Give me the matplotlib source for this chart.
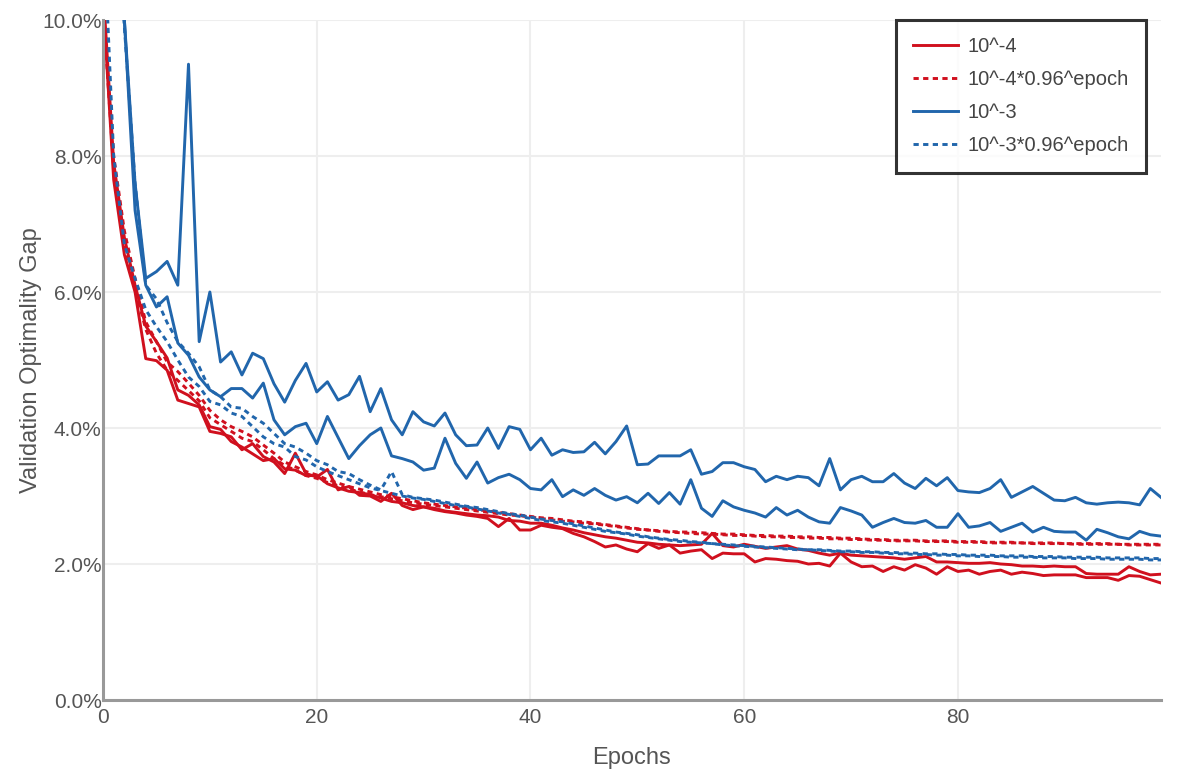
import matplotlib
matplotlib.use('Agg')
import matplotlib.pyplot as plt
from matplotlib.ticker import FuncFormatter
import numpy as np

plt.rcParams['font.family'] = ['Liberation Sans', 'DejaVu Sans']

epochs = np.arange(100)

# lr 10^-4, two runs
lr4_a = [10.3, 7.65, 6.55, 6.0, 5.02, 4.99, 4.85, 4.41, 4.36, 4.31,
         3.95, 3.92, 3.87, 3.68, 3.77, 3.58, 3.50, 3.33, 3.63, 3.33,
         3.28, 3.39, 3.09, 3.14, 3.01, 3.00, 2.92, 3.04, 2.86, 2.80,
         2.84, 2.80, 2.77, 2.75, 2.72, 2.70, 2.67, 2.55, 2.67, 2.50,
         2.50, 2.57, 2.54, 2.52, 2.45, 2.40, 2.33, 2.25, 2.28, 2.22,
         2.18, 2.30, 2.23, 2.28, 2.16, 2.19, 2.21, 2.08, 2.16, 2.15,
         2.15, 2.03, 2.08, 2.07, 2.05, 2.04, 2.00, 2.01, 1.97, 2.16,
         2.03, 1.96, 1.97, 1.89, 1.96, 1.91, 1.99, 1.94, 1.85, 1.96,
         1.89, 1.91, 1.85, 1.89, 1.91, 1.85, 1.88, 1.86, 1.83, 1.84,
         1.84, 1.84, 1.80, 1.80, 1.80, 1.76, 1.83, 1.82, 1.77, 1.72]
lr4_b = [10.5, 7.9, 6.8, 6.1, 5.5, 5.27, 5.03, 4.56, 4.48, 4.34,
         4.02, 3.98, 3.80, 3.72, 3.62, 3.52, 3.55, 3.40, 3.38, 3.30,
         3.30, 3.18, 3.12, 3.07, 3.05, 3.02, 2.97, 2.92, 2.90, 2.86,
         2.84, 2.82, 2.78, 2.76, 2.74, 2.72, 2.71, 2.69, 2.64, 2.63,
         2.60, 2.60, 2.57, 2.53, 2.50, 2.46, 2.43, 2.40, 2.38, 2.35,
         2.32, 2.31, 2.29, 2.28, 2.27, 2.28, 2.29, 2.45, 2.27, 2.25,
         2.29, 2.26, 2.23, 2.25, 2.27, 2.22, 2.20, 2.16, 2.13, 2.16,
         2.13, 2.12, 2.11, 2.10, 2.09, 2.07, 2.09, 2.11, 2.03, 2.03,
         2.02, 2.01, 2.01, 2.02, 2.00, 1.99, 1.97, 1.97, 1.96, 1.97,
         1.96, 1.96, 1.86, 1.85, 1.85, 1.85, 1.96, 1.89, 1.84, 1.85]

# lr 10^-4 * 0.96^epoch, two runs
lr4_decay_a = [10.4, 8.0, 6.9, 6.2, 5.56, 5.27, 4.97, 4.83, 4.66, 4.48,
               4.26, 4.12, 4.02, 3.95, 3.87, 3.75, 3.63, 3.50, 3.43, 3.36,
               3.31, 3.24, 3.19, 3.14, 3.10, 3.06, 3.02, 2.99, 2.96, 2.93,
               2.90, 2.88, 2.86, 2.84, 2.82, 2.80, 2.78, 2.76, 2.74, 2.72,
               2.70, 2.68, 2.67, 2.65, 2.63, 2.62, 2.60, 2.58, 2.56, 2.54,
               2.52, 2.50, 2.49, 2.48, 2.47, 2.47, 2.46, 2.45, 2.44, 2.44,
               2.43, 2.42, 2.42, 2.41, 2.41, 2.40, 2.40, 2.39, 2.39, 2.38,
               2.38, 2.37, 2.36, 2.36, 2.35, 2.35, 2.35, 2.34, 2.34, 2.34,
               2.33, 2.33, 2.33, 2.32, 2.32, 2.32, 2.31, 2.31, 2.31, 2.31,
               2.30, 2.30, 2.30, 2.30, 2.30, 2.29, 2.29, 2.29, 2.29, 2.29]
lr4_decay_b = [10.2, 7.8, 6.7, 6.05, 5.45, 5.1, 4.85, 4.7, 4.55, 4.4,
               4.15, 4.05, 3.95, 3.85, 3.8, 3.68, 3.55, 3.45, 3.38, 3.30,
               3.26, 3.20, 3.15, 3.10, 3.06, 3.02, 2.99, 2.96, 2.93, 2.90,
               2.88, 2.86, 2.84, 2.82, 2.80, 2.78, 2.76, 2.74, 2.72, 2.71,
               2.69, 2.67, 2.65, 2.63, 2.62, 2.60, 2.59, 2.57, 2.55, 2.53,
               2.51, 2.50, 2.48, 2.47, 2.46, 2.45, 2.44, 2.44, 2.43, 2.42,
               2.42, 2.41, 2.40, 2.40, 2.39, 2.39, 2.38, 2.38, 2.37, 2.37,
               2.36, 2.36, 2.35, 2.35, 2.34, 2.34, 2.34, 2.33, 2.33, 2.33,
               2.32, 2.32, 2.32, 2.31, 2.31, 2.31, 2.31, 2.30, 2.30, 2.30,
               2.30, 2.29, 2.29, 2.29, 2.29, 2.29, 2.28, 2.28, 2.28, 2.28]

# lr 10^-3, two runs
lr3_a = [14.0, 12.0, 10.0, 7.6, 6.2, 6.3, 6.45, 6.1, 9.35, 5.27,
         6.0, 4.97, 5.12, 4.78, 5.10, 5.02, 4.65, 4.38, 4.70, 4.95,
         4.53, 4.68, 4.41, 4.49, 4.76, 4.24, 4.58, 4.12, 3.90, 4.24,
         4.09, 4.03, 4.22, 3.90, 3.74, 3.75, 4.00, 3.70, 4.02, 3.98,
         3.68, 3.85, 3.60, 3.68, 3.64, 3.65, 3.79, 3.62, 3.80, 4.03,
         3.46, 3.47, 3.59, 3.59, 3.59, 3.68, 3.32, 3.36, 3.49, 3.49,
         3.43, 3.39, 3.21, 3.29, 3.24, 3.29, 3.27, 3.15, 3.55, 3.09,
         3.24, 3.29, 3.21, 3.21, 3.33, 3.19, 3.11, 3.26, 3.15, 3.27,
         3.08, 3.06, 3.05, 3.11, 3.24, 2.98, 3.06, 3.14, 3.04, 2.94,
         2.93, 2.98, 2.90, 2.88, 2.90, 2.91, 2.90, 2.87, 3.11, 2.98]
lr3_b = [13.0, 11.5, 10.0, 7.2, 6.1, 5.78, 5.93, 5.25, 5.07, 4.75,
         4.56, 4.46, 4.58, 4.58, 4.44, 4.66, 4.12, 3.90, 4.02, 4.07,
         3.77, 4.17, 3.86, 3.55, 3.74, 3.90, 4.00, 3.59, 3.55, 3.50,
         3.38, 3.41, 3.85, 3.48, 3.26, 3.50, 3.19, 3.27, 3.32, 3.24,
         3.11, 3.09, 3.24, 2.99, 3.09, 3.01, 3.11, 3.01, 2.94, 2.99,
         2.90, 3.04, 2.89, 3.05, 2.88, 3.24, 2.82, 2.70, 2.93, 2.84,
         2.79, 2.75, 2.69, 2.83, 2.72, 2.79, 2.69, 2.62, 2.60, 2.83,
         2.78, 2.72, 2.54, 2.61, 2.67, 2.61, 2.60, 2.64, 2.54, 2.54,
         2.74, 2.54, 2.56, 2.61, 2.48, 2.54, 2.60, 2.47, 2.54, 2.48,
         2.47, 2.47, 2.35, 2.51, 2.46, 2.40, 2.37, 2.48, 2.43, 2.41]

# lr 10^-3 * 0.96^epoch, two runs
lr3_decay_a = [11.6, 8.0, 6.7, 6.2, 5.74, 5.49, 5.27, 5.0, 4.75, 4.61,
               4.39, 4.34, 4.22, 4.17, 4.02, 3.87, 3.77, 3.72, 3.58, 3.53,
               3.43, 3.36, 3.30, 3.24, 3.18, 3.12, 3.08, 3.04, 3.00, 2.97,
               2.95, 2.92, 2.89, 2.86, 2.84, 2.81, 2.78, 2.75, 2.73, 2.70,
               2.67, 2.64, 2.62, 2.60, 2.57, 2.54, 2.51, 2.48, 2.46, 2.44,
               2.41, 2.39, 2.37, 2.35, 2.33, 2.32, 2.31, 2.30, 2.28, 2.27,
               2.26, 2.25, 2.24, 2.23, 2.22, 2.21, 2.21, 2.20, 2.19, 2.18,
               2.18, 2.17, 2.17, 2.16, 2.15, 2.15, 2.14, 2.14, 2.13, 2.13,
               2.12, 2.12, 2.11, 2.11, 2.11, 2.10, 2.10, 2.10, 2.09, 2.09,
               2.09, 2.08, 2.08, 2.08, 2.07, 2.07, 2.07, 2.07, 2.06, 2.06]
lr3_decay_b = [14.5, 12.0, 9.9, 7.6, 6.1, 5.9, 5.55, 5.27, 5.1, 4.9,
               4.56, 4.46, 4.31, 4.29, 4.17, 4.07, 3.92, 3.77, 3.72, 3.63,
               3.52, 3.46, 3.36, 3.33, 3.24, 3.16, 3.09, 3.36, 3.02, 2.98,
               2.96, 2.94, 2.91, 2.88, 2.85, 2.83, 2.80, 2.77, 2.74, 2.72,
               2.69, 2.66, 2.64, 2.62, 2.59, 2.56, 2.53, 2.50, 2.47, 2.45,
               2.43, 2.40, 2.38, 2.36, 2.35, 2.33, 2.32, 2.30, 2.29, 2.28,
               2.27, 2.26, 2.25, 2.24, 2.23, 2.22, 2.21, 2.21, 2.20, 2.19,
               2.19, 2.18, 2.18, 2.17, 2.17, 2.16, 2.16, 2.15, 2.15, 2.14,
               2.14, 2.13, 2.13, 2.13, 2.12, 2.12, 2.12, 2.11, 2.11, 2.11,
               2.10, 2.10, 2.10, 2.10, 2.09, 2.09, 2.09, 2.09, 2.08, 2.08]

red = '#d0101e'
blue = '#2166ac'
dot = (0, (1.8, 1.5))
lw = 2.1

fig = plt.figure(figsize=(11.96, 7.69), dpi=100)
ax = fig.add_axes([103 / 1196, 1 - 700 / 769, (1161 - 103) / 1196, (700 - 20) / 769])

ax.plot(epochs, lr4_a, color=red, lw=lw, label='10^-4')
ax.plot(epochs, lr4_b, color=red, lw=lw, label='_nolegend_')
ax.plot(epochs, lr4_decay_a, color=red, lw=lw, ls=dot, label='10^-4*0.96^epoch')
ax.plot(epochs, lr4_decay_b, color=red, lw=lw, ls=dot, label='_nolegend_')
ax.plot(epochs, lr3_a, color=blue, lw=lw, label='10^-3')
ax.plot(epochs, lr3_b, color=blue, lw=lw, label='_nolegend_')
ax.plot(epochs, lr3_decay_a, color=blue, lw=lw, ls=dot, label='10^-3*0.96^epoch')
ax.plot(epochs, lr3_decay_b, color=blue, lw=lw, ls=dot, label='_nolegend_')

ax.set_xlim(0, 99)
ax.set_ylim(0, 10)
ax.set_xticks([0, 20, 40, 60, 80])
ax.set_yticks([0, 2, 4, 6, 8, 10])
ax.yaxis.set_major_formatter(FuncFormatter(lambda v, p: f'{v:.1f}%'))

ax.grid(True, color='#eeeeee', lw=1.5)
ax.set_axisbelow(True)
for s in ['top', 'right']:
    ax.spines[s].set_visible(False)
for s in ['left', 'bottom']:
    ax.spines[s].set_color('#999999')
    ax.spines[s].set_linewidth(2.2)
    ax.spines[s].set_zorder(5)

ax.tick_params(length=0, labelsize=15, colors='#555555')
ax.tick_params(axis='x', pad=6)
ax.tick_params(axis='y', pad=1)

ax.set_xlabel('Epochs', fontsize=17, color='#555555', labelpad=14)
ax.set_ylabel('Validation Optimality Gap', fontsize=17, color='#555555', labelpad=0)

leg = ax.legend(loc='upper right', bbox_to_anchor=(1146 / 1196, 1 - 20 / 769),
                bbox_transform=fig.transFigure, fontsize=14.5, frameon=True,
                fancybox=False, handlelength=2.2, handletextpad=0.5,
                labelspacing=0.7, borderpad=0.85, borderaxespad=0)
leg.get_frame().set_edgecolor('black')
leg.get_frame().set_linewidth(2.2)
for t in leg.get_texts():
    t.set_color('#444444')

fig.savefig('out.png', dpi=100)
